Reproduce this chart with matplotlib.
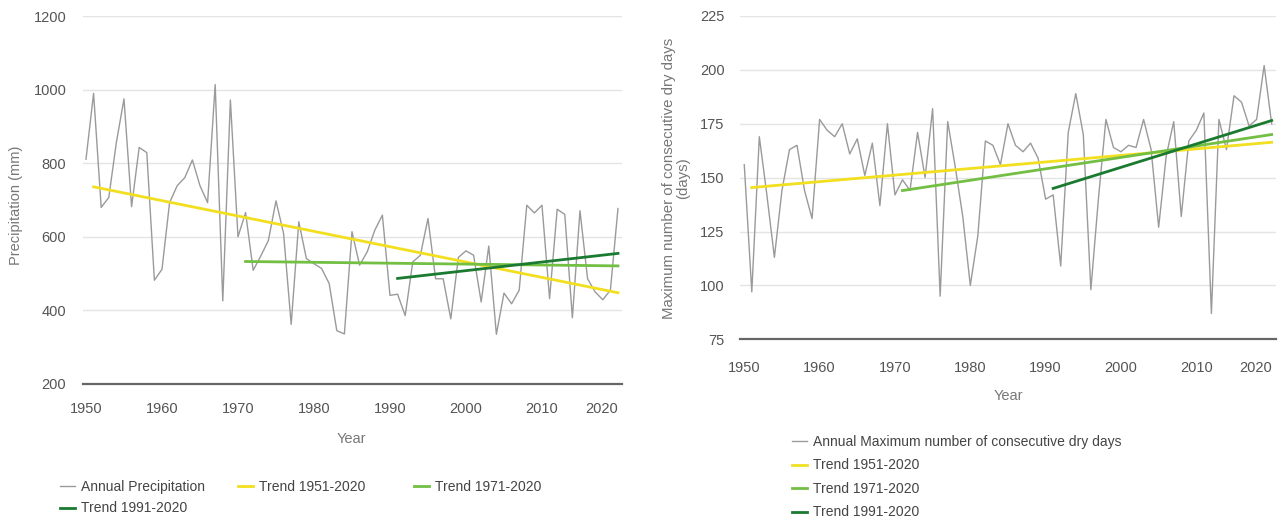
import matplotlib
matplotlib.use("Agg")
from matplotlib import pyplot as plt
from matplotlib import font_manager

names = {f.name for f in font_manager.fontManager.ttflist}
plt.rcParams['font.family'] = ['Liberation Sans' if 'Liberation Sans' in names else 'DejaVu Sans']

years = list(range(1950, 2021))

precip = [811, 990, 680, 707, 857, 975, 682, 843, 829, 482,
          512, 693, 739, 761, 809, 739, 693, 1014, 426, 972,
          600, 666, 509, 548, 590, 698, 609, 362, 641, 541,
          527, 514, 473, 345, 336, 614, 523, 559, 618, 659,
          441, 444, 386, 532, 550, 650, 486, 486, 377, 544,
          562, 550, 423, 575, 335, 447, 418, 455, 686, 665,
          686, 432, 675, 661, 380, 671, 486, 450, 429, 455,
          677]

cdd = [156, 97, 169, 142, 113, 144, 163, 165, 144, 131,
       177, 172, 169, 175, 161, 168, 151, 166, 137, 175,
       142, 149, 144, 171, 150, 182, 95, 176, 155, 132,
       100, 123, 167, 165, 156, 175, 165, 162, 166, 159,
       140, 142, 109, 171, 189, 170, 98, 140, 177, 164,
       162, 165, 164, 177, 163, 127, 160, 176, 132, 167,
       172, 180, 87, 177, 163, 188, 185, 174, 177, 202,
       175]

trend_names = ["Trend 1951-2020", "Trend 1971-2020", "Trend 1991-2020"]
trend_years = [(1951, 2020), (1971, 2020), (1991, 2020)]
precip_trends = [(736, 448), (533, 521), (487, 555)]
cdd_trends = [(145.4, 166.4), (144, 170), (145, 176.5)]
trend_colors = ["#f2df1f", "#72bf44", "#1a7a30"]

fig = plt.figure(figsize=(12.86, 5.21), dpi=100)

leg_kw = dict(frameon=False, loc="upper left", bbox_transform=fig.transFigure,
              borderpad=0, borderaxespad=0, fontsize=10, handlelength=1.1,
              handletextpad=0.4, labelcolor="#444444")


def style(ax, ylo, yhi, ystep, xpad, ypad):
    for s in ["top", "right", "left"]:
        ax.spines[s].set_visible(False)
    ax.spines["bottom"].set_color("#666666")
    ax.spines["bottom"].set_linewidth(1.6)
    ax.set_ylim(ylo, yhi)
    ax.set_yticks(range(ylo, yhi + 1, ystep))
    ax.set_xticks(range(1950, 2021, 10))
    ax.grid(axis="y", color="#e4e4e4", lw=1)
    ax.set_axisbelow(True)
    ax.tick_params(axis="x", length=0, pad=xpad, labelsize=10.5, labelcolor="#555555")
    ax.tick_params(axis="y", length=0, pad=ypad, labelsize=10.5, labelcolor="#555555")
    # last year label sits inside the plot edge, like the original
    ax.get_xticklabels()[-1].set_horizontalalignment("right")


# left: precipitation
ax1 = fig.add_axes([0.0645, 0.263, 0.419, 0.706])
ax1.plot(years, precip, color="#9a9a9a", lw=1, label="Annual Precipitation")
for (y0, y1), (v0, v1), c, n in zip(trend_years, precip_trends, trend_colors, trend_names):
    ax1.plot([y0, y1], [v0, v1], color=c, lw=2, label=n)
ax1.set_xlim(1949.6, 2020.5)
style(ax1, 200, 1200, 200, 13, 12)
ax1.set_xlabel("Year", fontsize=10.5, color="#777777")
ax1.xaxis.set_label_coords(0.499, -0.13)
ax1.set_ylabel("Precipitation (mm)", fontsize=10.5, color="#777777")
ax1.yaxis.set_label_coords(-0.111, 0.486)

# legend laid out in three equal-width columns
hd, lb = ax1.get_legend_handles_labels()
cols = [([0, 3], 60), ([1], 238), ([2], 414)]
for idx, xpx in cols:
    fig.legend([hd[i] for i in idx], [lb[i] for i in idx],
               bbox_to_anchor=(xpx / 1286, 0.079), labelspacing=0.55, **leg_kw)

# right: consecutive dry days
ax2 = fig.add_axes([0.5754, 0.3488, 0.4168, 0.6205])
ax2.plot(years, cdd, color="#9a9a9a", lw=1, label="Annual Maximum number of consecutive dry days")
for (y0, y1), (v0, v1), c, n in zip(trend_years, cdd_trends, trend_colors, trend_names):
    ax2.plot([y0, y1], [v0, v1], color=c, lw=2, label=n)
ax2.set_xlim(1949.43, 2020.57)
style(ax2, 75, 225, 25, 16, 11)
ax2.set_xlabel("Year", fontsize=10.5, color="#777777")
ax2.xaxis.set_label_coords(0.5, -0.154)
ax2.set_ylabel("Maximum number of consecutive dry days\n(days)", fontsize=10.8,
               color="#777777", linespacing=1.0)
ax2.yaxis.set_label_coords(-0.093, 0.499)
ax2.legend(bbox_to_anchor=(0.616, 0.165), labelspacing=0.68, **leg_kw)

fig.savefig("out.png", dpi=100)
